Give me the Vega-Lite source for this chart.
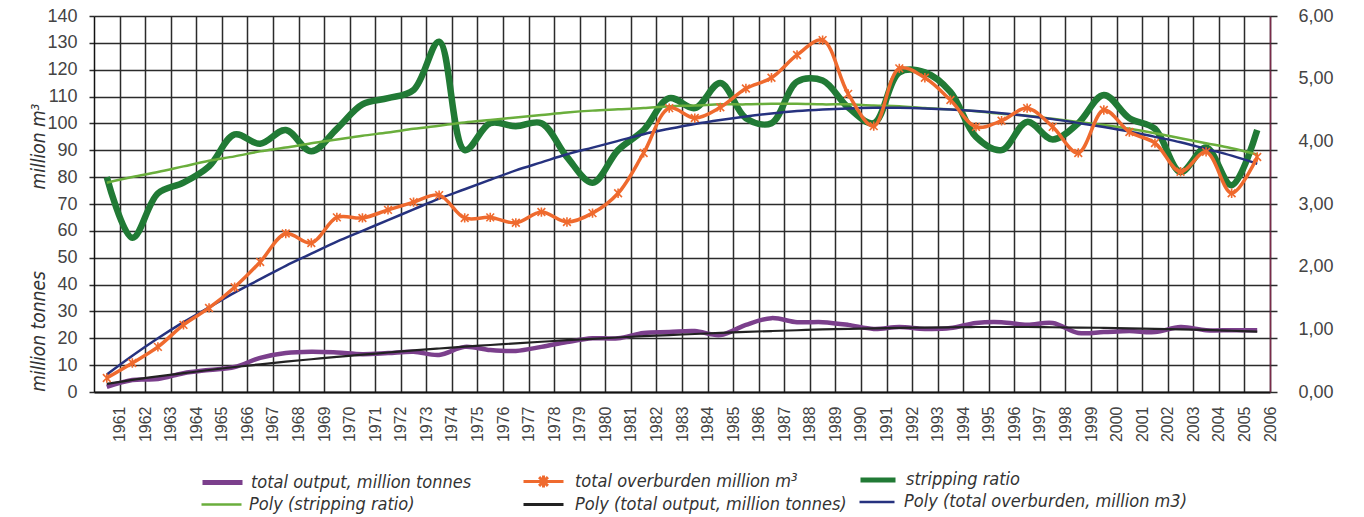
{
  "$schema": "https://vega.github.io/schema/vega-lite/v6.json",
  "width": 1176,
  "height": 376,
  "autosize": {"type": "none"},
  "padding": {"left": 94, "top": 16, "right": 94, "bottom": 125},
  "background": "white",
  "config": {
    "view": {"stroke": null},
    "axis": {"labelFont": "Liberation Sans", "titleFont": "Liberation Sans Narrow, DejaVu Sans Condensed, Liberation Sans"},
    "legend": {
      "orient": "none",
      "symbolType": "stroke",
      "symbolSize": 1600,
      "labelFont": "Liberation Sans Narrow, DejaVu Sans Condensed, Liberation Sans",
      "labelFontSize": 18,
      "labelFontStyle": "italic",
      "labelColor": "#333",
      "labelOffset": 12,
      "labelLimit": 0,
      "padding": 0
    }
  },
  "data": {
    "values": [
      {"year": 1961, "output": 1.9, "overburden": 5.2, "ratio": 3.43, "poly_ratio": 3.34, "poly_output": 3.0, "poly_overburden": 6.5},
      {"year": 1962, "output": 4.5, "overburden": 10.8, "ratio": 2.46, "poly_ratio": 3.43, "poly_output": 4.5, "poly_overburden": 13.5},
      {"year": 1963, "output": 4.8, "overburden": 16.8, "ratio": 3.17, "poly_ratio": 3.51, "poly_output": 5.8, "poly_overburden": 20},
      {"year": 1964, "output": 7.0, "overburden": 25, "ratio": 3.34, "poly_ratio": 3.60, "poly_output": 7.0, "poly_overburden": 26},
      {"year": 1965, "output": 8.2, "overburden": 31.3, "ratio": 3.60, "poly_ratio": 3.69, "poly_output": 8.2, "poly_overburden": 31.5},
      {"year": 1966, "output": 9.3, "overburden": 39, "ratio": 4.11, "poly_ratio": 3.76, "poly_output": 9.3, "poly_overburden": 37},
      {"year": 1967, "output": 12.7, "overburden": 48.4, "ratio": 3.96, "poly_ratio": 3.84, "poly_output": 10.3, "poly_overburden": 42},
      {"year": 1968, "output": 14.5, "overburden": 59, "ratio": 4.18, "poly_ratio": 3.90, "poly_output": 11.3, "poly_overburden": 47},
      {"year": 1969, "output": 15, "overburden": 55.5, "ratio": 3.84, "poly_ratio": 3.97, "poly_output": 12.2, "poly_overburden": 51.5},
      {"year": 1970, "output": 14.7, "overburden": 65, "ratio": 4.20, "poly_ratio": 4.03, "poly_output": 13.1, "poly_overburden": 56},
      {"year": 1971, "output": 14.1, "overburden": 64.8, "ratio": 4.59, "poly_ratio": 4.09, "poly_output": 13.9, "poly_overburden": 60},
      {"year": 1972, "output": 14.5, "overburden": 67.8, "ratio": 4.69, "poly_ratio": 4.14, "poly_output": 14.7, "poly_overburden": 64},
      {"year": 1973, "output": 15, "overburden": 70.7, "ratio": 4.82, "poly_ratio": 4.20, "poly_output": 15.5, "poly_overburden": 68},
      {"year": 1974, "output": 13.8, "overburden": 73.3, "ratio": 5.59, "poly_ratio": 4.25, "poly_output": 16.2, "poly_overburden": 72},
      {"year": 1975, "output": 16.8, "overburden": 64.8, "ratio": 3.86, "poly_ratio": 4.30, "poly_output": 16.9, "poly_overburden": 75.5},
      {"year": 1976, "output": 15.6, "overburden": 65, "ratio": 4.29, "poly_ratio": 4.34, "poly_output": 17.5, "poly_overburden": 79},
      {"year": 1977, "output": 15.3, "overburden": 63, "ratio": 4.24, "poly_ratio": 4.38, "poly_output": 18.1, "poly_overburden": 82.5},
      {"year": 1978, "output": 16.8, "overburden": 67, "ratio": 4.29, "poly_ratio": 4.42, "poly_output": 18.7, "poly_overburden": 85.5},
      {"year": 1979, "output": 18.6, "overburden": 63.3, "ratio": 3.75, "poly_ratio": 4.46, "poly_output": 19.3, "poly_overburden": 88.5},
      {"year": 1980, "output": 20, "overburden": 66.6, "ratio": 3.34, "poly_ratio": 4.49, "poly_output": 19.8, "poly_overburden": 91},
      {"year": 1981, "output": 20, "overburden": 74, "ratio": 3.86, "poly_ratio": 4.51, "poly_output": 20.3, "poly_overburden": 93.5},
      {"year": 1982, "output": 22, "overburden": 89, "ratio": 4.18, "poly_ratio": 4.53, "poly_output": 20.8, "poly_overburden": 96},
      {"year": 1983, "output": 22.3, "overburden": 105.7, "ratio": 4.69, "poly_ratio": 4.56, "poly_output": 21.2, "poly_overburden": 98},
      {"year": 1984, "output": 22.7, "overburden": 102, "ratio": 4.53, "poly_ratio": 4.57, "poly_output": 21.6, "poly_overburden": 99.8},
      {"year": 1985, "output": 21.2, "overburden": 106, "ratio": 4.93, "poly_ratio": 4.59, "poly_output": 22.0, "poly_overburden": 101.3},
      {"year": 1986, "output": 25, "overburden": 113, "ratio": 4.37, "poly_ratio": 4.59, "poly_output": 22.4, "poly_overburden": 102.6},
      {"year": 1987, "output": 27.5, "overburden": 117, "ratio": 4.29, "poly_ratio": 4.60, "poly_output": 22.7, "poly_overburden": 103.7},
      {"year": 1988, "output": 26, "overburden": 125.5, "ratio": 4.95, "poly_ratio": 4.60, "poly_output": 23.0, "poly_overburden": 104.6},
      {"year": 1989, "output": 26, "overburden": 131, "ratio": 4.97, "poly_ratio": 4.59, "poly_output": 23.3, "poly_overburden": 105.2},
      {"year": 1990, "output": 25, "overburden": 111, "ratio": 4.54, "poly_ratio": 4.59, "poly_output": 23.5, "poly_overburden": 105.6},
      {"year": 1991, "output": 23.5, "overburden": 99, "ratio": 4.29, "poly_ratio": 4.57, "poly_output": 23.7, "poly_overburden": 105.8},
      {"year": 1992, "output": 24.2, "overburden": 120.5, "ratio": 5.10, "poly_ratio": 4.56, "poly_output": 23.9, "poly_overburden": 105.8},
      {"year": 1993, "output": 23.5, "overburden": 117, "ratio": 5.10, "poly_ratio": 4.53, "poly_output": 24.0, "poly_overburden": 105.6},
      {"year": 1994, "output": 23.8, "overburden": 108.7, "ratio": 4.79, "poly_ratio": 4.51, "poly_output": 24.1, "poly_overburden": 105.2},
      {"year": 1995, "output": 25.7, "overburden": 98.7, "ratio": 4.07, "poly_ratio": 4.48, "poly_output": 24.2, "poly_overburden": 104.6},
      {"year": 1996, "output": 26, "overburden": 101, "ratio": 3.86, "poly_ratio": 4.44, "poly_output": 24.2, "poly_overburden": 103.8},
      {"year": 1997, "output": 25, "overburden": 105.7, "ratio": 4.31, "poly_ratio": 4.41, "poly_output": 24.2, "poly_overburden": 102.8},
      {"year": 1998, "output": 25.7, "overburden": 98.7, "ratio": 4.03, "poly_ratio": 4.36, "poly_output": 24.1, "poly_overburden": 101.6},
      {"year": 1999, "output": 22, "overburden": 89, "ratio": 4.29, "poly_ratio": 4.31, "poly_output": 24.0, "poly_overburden": 100.2},
      {"year": 2000, "output": 22.3, "overburden": 105, "ratio": 4.74, "poly_ratio": 4.26, "poly_output": 23.9, "poly_overburden": 98.7},
      {"year": 2001, "output": 22.7, "overburden": 96.8, "ratio": 4.37, "poly_ratio": 4.20, "poly_output": 23.7, "poly_overburden": 97},
      {"year": 2002, "output": 22.3, "overburden": 92.7, "ratio": 4.20, "poly_ratio": 4.13, "poly_output": 23.5, "poly_overburden": 95},
      {"year": 2003, "output": 24.2, "overburden": 82, "ratio": 3.51, "poly_ratio": 4.05, "poly_output": 23.3, "poly_overburden": 93},
      {"year": 2004, "output": 23, "overburden": 89.4, "ratio": 3.90, "poly_ratio": 3.97, "poly_output": 23.1, "poly_overburden": 90.5},
      {"year": 2005, "output": 23, "overburden": 74, "ratio": 3.30, "poly_ratio": 3.89, "poly_output": 22.8, "poly_overburden": 88},
      {"year": 2006, "output": 23, "overburden": 87.5, "ratio": 4.18, "poly_ratio": 3.79, "poly_output": 22.5, "poly_overburden": 85}
    ]
  },
  "encoding": {
    "x": {
      "field": "year",
      "type": "quantitative",
      "scale": {"domain": [1960.5, 2006.5], "nice": false, "zero": false},
      "axis": {
        "values": [1961.5, 1962.5, 1963.5, 1964.5, 1965.5, 1966.5, 1967.5, 1968.5, 1969.5, 1970.5, 1971.5, 1972.5, 1973.5, 1974.5, 1975.5, 1976.5, 1977.5, 1978.5, 1979.5, 1980.5, 1981.5, 1982.5, 1983.5, 1984.5, 1985.5, 1986.5, 1987.5, 1988.5, 1989.5, 1990.5, 1991.5, 1992.5, 1993.5, 1994.5, 1995.5, 1996.5, 1997.5, 1998.5, 1999.5, 2000.5, 2001.5, 2002.5, 2003.5, 2004.5, 2005.5, 2006.5],
        "labelExpr": "'' + floor(datum.value)",
        "title": null,
        "grid": true,
        "gridColor": "#2b2b2b",
        "gridWidth": 1.5,
        "gridOpacity": 1,
        "ticks": false,
        "domainColor": "#111",
        "domainWidth": 2,
        "labelAngle": -90,
        "labelAlign": "right",
        "labelBaseline": "middle",
        "labelPadding": 14,
        "labelFontSize": 16,
        "labelColor": "#444",
        "labelOverlap": false,
        "labelFlush": false,
        "labelBound": false
      }
    }
  },
  "layer": [
    {
      "mark": {"type": "line", "strokeWidth": 6.5, "interpolate": "catmull-rom"},
      "encoding": {
        "y": {
          "field": "ratio", "type": "quantitative",
          "scale": {"domain": [0, 6], "nice": false, "zero": true},
          "axis": {
            "orient": "right", "values": [0, 1, 2, 3, 4, 5, 6],
            "labelExpr": "replace(format(datum.value, '.2f'), '.', ',')",
            "grid": false, "ticks": false, "title": null,
            "domainColor": "#7a2a4a", "domainWidth": 1.5,
            "labelPadding": 28, "labelFontSize": 18, "labelColor": "#444"
          }
        },
        "color": {
          "datum": "stripping ratio", "type": "nominal",
          "scale": {"domain": ["stripping ratio"], "range": ["#217a35"]},
          "legend": {"title": null, "legendX": 764, "legendY": 444, "symbolSize": 1225, "symbolStrokeWidth": 5, "labelOffset": 8}
        }
      }
    },
    {
      "mark": {"type": "line", "strokeWidth": 2.5, "interpolate": "catmull-rom"},
      "encoding": {
        "y": {"field": "poly_ratio", "type": "quantitative", "scale": {"domain": [0, 6], "nice": false}, "axis": null},
        "color": {
          "datum": "Poly (stripping ratio)", "type": "nominal",
          "scale": {"domain": ["Poly (stripping ratio)"], "range": ["#6aae3c"]},
          "legend": {"title": null, "legendX": 106, "legendY": 467, "symbolStrokeWidth": 2.5, "labelOffset": 6}
        }
      }
    },
    {
      "mark": {"type": "line", "strokeWidth": 2.5, "interpolate": "catmull-rom"},
      "encoding": {
        "y": {
          "field": "poly_overburden", "type": "quantitative",
          "scale": {"domain": [0, 140], "nice": false},
          "axis": {"orient": "right", "values": [0, 10, 20, 30, 40, 50, 60, 70, 80, 90, 100, 110, 120, 130, 140], "labels": false, "ticks": true, "tickSize": 7, "tickColor": "#2b2b2b", "tickWidth": 1.5, "domain": false, "grid": false, "title": null}
        },
        "color": {
          "datum": "Poly (total overburden, million m3)", "type": "nominal",
          "scale": {"domain": ["Poly (total overburden, million m3)"], "range": ["#26327f"]},
          "legend": {"title": null, "legendX": 764, "legendY": 467, "symbolSize": 1225, "symbolStrokeWidth": 2.5, "labelOffset": 8}
        }
      }
    },
    {
      "mark": {"type": "line", "strokeWidth": 4.5, "interpolate": "catmull-rom"},
      "encoding": {
        "y": {
          "field": "output", "type": "quantitative",
          "scale": {"domain": [0, 140], "nice": false},
          "axis": {
            "orient": "left", "labels": false, "ticks": false, "domain": false, "grid": false,
            "title": "million tonnes", "titleFontStyle": "italic", "titleFontWeight": "normal",
            "titleFontSize": 19, "titleColor": "#333", "titleX": -56, "titleY": 315,
            "titleAngle": 270, "titleAlign": "center", "titleBaseline": "middle"
          }
        },
        "color": {
          "datum": "total output, million tonnes", "type": "nominal",
          "scale": {"domain": ["total output, million tonnes"], "range": ["#7b3f8c"]},
          "legend": {"title": null, "legendX": 106, "legendY": 444, "symbolStrokeWidth": 5, "labelOffset": 6}
        }
      }
    },
    {
      "mark": {"type": "line", "strokeWidth": 2.2, "interpolate": "catmull-rom"},
      "encoding": {
        "y": {"field": "poly_output", "type": "quantitative", "scale": {"domain": [0, 140], "nice": false}, "axis": null},
        "color": {
          "datum": "Poly (total output, million tonnes)", "type": "nominal",
          "scale": {"domain": ["Poly (total output, million tonnes)"], "range": ["#222222"]},
          "legend": {"title": null, "legendX": 428, "legendY": 467, "symbolStrokeWidth": 3, "labelOffset": 10}
        }
      }
    },
    {
      "mark": {"type": "line", "strokeWidth": 3.5, "interpolate": "catmull-rom"},
      "encoding": {
        "y": {
          "field": "overburden", "type": "quantitative",
          "scale": {"domain": [0, 140], "nice": false},
          "axis": {
            "orient": "left", "values": [0, 10, 20, 30, 40, 50, 60, 70, 80, 90, 100, 110, 120, 130, 140],
            "grid": true, "gridColor": "#2b2b2b", "gridWidth": 1.5, "gridOpacity": 1,
            "ticks": true, "tickSize": 5, "tickColor": "#2b2b2b", "tickWidth": 1.5,
            "domainColor": "#111", "domainWidth": 1.5,
            "labelFontSize": 18, "labelColor": "#444", "labelPadding": 12,
            "title": "million m³", "titleFontStyle": "italic", "titleFontWeight": "normal",
            "titleFontSize": 19, "titleColor": "#333", "titleX": -56, "titleY": 130,
            "titleAngle": 270, "titleAlign": "center", "titleBaseline": "middle"
          }
        },
        "color": {
          "datum": "total overburden million m³", "type": "nominal",
          "scale": {"domain": ["total overburden million m³"], "range": ["#ef6a2e"]},
          "legend": {
            "title": null, "legendX": 428, "legendY": 444, "symbolStrokeWidth": 3, "labelOffset": 10,
            "symbolType": "M-1,0L1,0M-0.22,-0.22L0.22,0.22M0.22,-0.22L-0.22,0.22M0,-0.3L0,0.3"
          }
        }
      }
    },
    {
      "mark": {
        "type": "point", "shape": "M-1,-1L1,1M1,-1L-1,1M0,-1.2L0,1.2",
        "filled": false, "size": 60, "strokeWidth": 1.6, "color": "#ef6a2e", "opacity": 1
      },
      "encoding": {
        "y": {"field": "overburden", "type": "quantitative", "scale": {"domain": [0, 140], "nice": false}, "axis": null}
      }
    }
  ],
  "resolve": {"scale": {"y": "independent", "color": "independent"}, "axis": {"y": "independent"}}
}
